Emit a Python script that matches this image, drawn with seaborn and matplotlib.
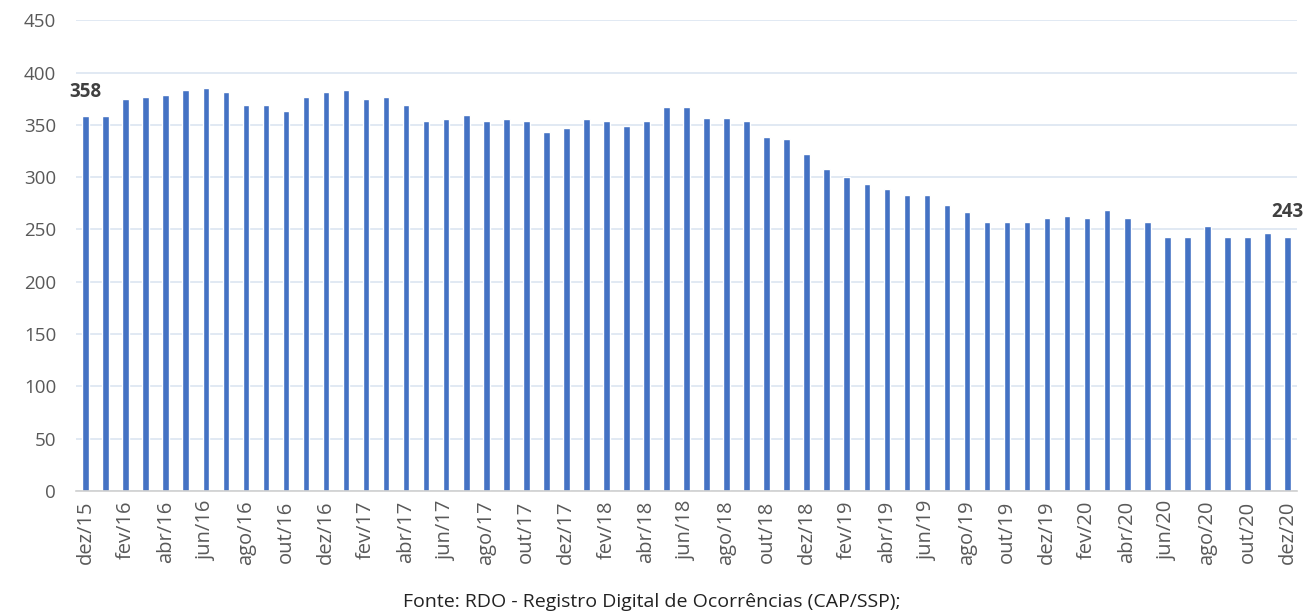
import matplotlib
matplotlib.use('Agg')
import seaborn as sns
import matplotlib.pyplot as plt
from matplotlib.ticker import FixedLocator

# monthly series, dez/15 .. dez/20
meses = ['dez/15',
         'jan/16', 'fev/16', 'mar/16', 'abr/16', 'mai/16', 'jun/16',
         'jul/16', 'ago/16', 'set/16', 'out/16', 'nov/16', 'dez/16',
         'jan/17', 'fev/17', 'mar/17', 'abr/17', 'mai/17', 'jun/17',
         'jul/17', 'ago/17', 'set/17', 'out/17', 'nov/17', 'dez/17',
         'jan/18', 'fev/18', 'mar/18', 'abr/18', 'mai/18', 'jun/18',
         'jul/18', 'ago/18', 'set/18', 'out/18', 'nov/18', 'dez/18',
         'jan/19', 'fev/19', 'mar/19', 'abr/19', 'mai/19', 'jun/19',
         'jul/19', 'ago/19', 'set/19', 'out/19', 'nov/19', 'dez/19',
         'jan/20', 'fev/20', 'mar/20', 'abr/20', 'mai/20', 'jun/20',
         'jul/20', 'ago/20', 'set/20', 'out/20', 'nov/20', 'dez/20']

valores = [358,
           358, 375, 377, 379, 383, 385, 381, 369, 369, 363, 377, 381,
           383, 375, 377, 369, 354, 356, 359, 354, 356, 354, 343, 347,
           356, 354, 349, 354, 367, 367, 357, 357, 354, 338, 336, 322,
           308, 300, 293, 289, 283, 283, 273, 267, 257, 257, 257, 261,
           263, 261, 269, 261, 257, 243, 243, 253, 243, 243, 247, 243]

fonte = 'Fonte: RDO - Registro Digital de Ocorrências (CAP/SSP);'

sns.set_style('white')
plt.rcParams['font.family'] = ['Open Sans', 'DejaVu Sans']

fig = plt.figure(figsize=(13.04, 6.13), dpi=100)
ax = fig.add_axes([0.058, 0.199, 0.937, 0.768])

sns.barplot(x=meses, y=valores, color='#4472C4', width=0.33, saturation=1, ax=ax)

ax.set_ylim(0, 450)
ax.set_xlim(-0.5, len(meses) - 0.5)
ax.set_yticks(range(0, 451, 50))
ax.yaxis.grid(True, color='#dbe5f1', linewidth=1.2)
ax.set_axisbelow(True)

# labels on every other month, tick marks between categories
pos = list(range(0, len(meses), 2))
ax.set_xticks(pos)
ax.set_xticklabels([meses[i] for i in pos], rotation=90)
ax.xaxis.set_minor_locator(FixedLocator([i - 0.5 for i in pos] + [len(meses) - 0.5]))
ax.tick_params(axis='x', which='major', length=0, labelsize=14.5, colors='#595959', pad=7)
ax.tick_params(axis='x', which='minor', length=6, color='#d0d0d0', width=1, direction='out')
ax.tick_params(axis='y', length=0, labelsize=13.5, colors='#595959', pad=14)

for s in ['left', 'right', 'top']:
    ax.spines[s].set_visible(False)
ax.spines['bottom'].set_color('#d0d0d0')
ax.spines['bottom'].set_linewidth(1.2)
ax.set_xlabel('')
ax.set_ylabel('')

# first and last values
for i in [0, len(meses) - 1]:
    ax.text(i, valores[i] + 14, str(valores[i]), ha='center', va='bottom',
            fontsize=13.5, fontweight='bold', color='#404040', clip_on=False)

fig.text(0.5, 0.003, fonte, ha='center', va='bottom', fontsize=14, color='#222222')

plt.savefig('out.png', dpi=100)
